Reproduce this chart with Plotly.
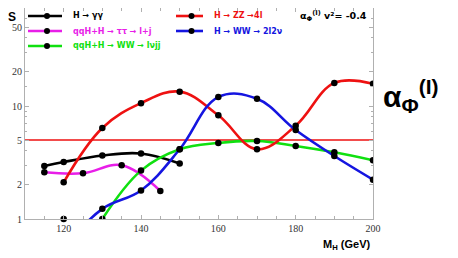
import plotly.graph_objects as go

# ---- data ----
mh_gg = [115, 120, 130, 140, 150]
s_gg = [2.94, 3.19, 3.65, 3.80, 3.10]

mh_tt = [115, 125, 135, 145]
s_tt = [2.59, 2.54, 2.99, 1.77]

mh_zz = [120, 130, 140, 150, 160, 170, 180, 190, 200]
s_zz = [2.11, 6.39, 10.6, 13.4, 8.27, 4.14, 6.69, 16.0, 15.7]

mh_ww2 = [120, 130, 140, 150, 160, 170, 180, 190, 200]
s_ww2 = [0.55, 1.23, 1.79, 4.14, 12.0, 11.6, 6.13, 3.61, 2.23]

mh_wwj = [130, 140, 150, 160, 170, 180, 190, 200]
s_wwj = [1.0, 2.68, 4.14, 4.71, 4.90, 4.43, 3.89, 3.31]

mh_clip = [120]
s_clip = [1.0]

threshold_x = [110, 200]
threshold_s = [5, 5]

x_ticks = [120, 140, 160, 180, 200]
x_minor = [115, 125, 130, 135, 145, 150, 155, 165, 170, 175, 185, 190, 195]
y_ticks = [1, 2, 5, 10, 20, 50]
y_minor = [3, 4, 6, 7, 8, 9, 15, 30, 40, 60]

series = [
    ("H \u2192 \u03b3\u03b3", mh_gg, s_gg, "#000000"),
    ("qqH+H \u2192 \u03c4\u03c4 \u2192 l+j", mh_tt, s_tt, "#e81ee8"),
    ("qqH+H \u2192 WW \u2192 l\u03bdjj", mh_wwj, s_wwj, "#10e010"),
    ("H \u2192 ZZ \u21924l", mh_zz, s_zz, "#ee1111"),
    ("H \u2192 WW \u2192 2l2\u03bd", mh_ww2, s_ww2, "#1515e0"),
]

fig = go.Figure()

fig.add_trace(go.Scatter(x=threshold_x, y=threshold_s, mode="lines",
                         line=dict(color="#ee1111", width=1.3), showlegend=False,
                         hoverinfo="skip"))

for name, xs, ys, col in series:
    fig.add_trace(go.Scatter(x=xs, y=ys, mode="lines", name=name,
                             line=dict(color=col, width=2.6, shape="spline", smoothing=1.1),
                             showlegend=False))
for name, xs, ys, col in series:
    fig.add_trace(go.Scatter(x=xs, y=ys, mode="markers",
                             marker=dict(color="black", size=6.5),
                             showlegend=False))
fig.add_trace(go.Scatter(x=mh_clip, y=s_clip, mode="markers", cliponaxis=False,
                         marker=dict(color="black", size=6.5), showlegend=False))

# ---- layout in screen pixels (page body has an 8px margin) ----
OFF = 8
FW, FH = 458 - OFF, 258 - OFF
L, R, T, B = 25, 373, 8, 219           # plot area, screen pixels
W, H = R - L, B - T
DEC = 113.0                             # pixels per decade
ytop = (B - T) / DEC

def px(x):
    return (x - L) / W
def py(y):
    return (B - y) / H

legend_pos = [(28, 62, 16), (28, 62, 31), (28, 62, 46), (176, 203, 16), (176, 203, 31)]
shapes = []
annotations = []
for (name, xs, ys, col), (x0, x1, yy) in zip(series, legend_pos):
    shapes.append(dict(type="line", xref="paper", yref="paper",
                       x0=px(x0), x1=px(x1), y0=py(yy), y1=py(yy),
                       line=dict(color=col, width=2.6)))
    cx = (x0 + x1) / 2 + 2
    shapes.append(dict(type="circle", xref="paper", yref="paper",
                       x0=px(cx - 3), x1=px(cx + 3), y0=py(yy + 3), y1=py(yy - 3),
                       fillcolor="black", line=dict(color="black", width=0)))
    annotations.append(dict(text="<b>%s</b>" % name, xref="paper", yref="paper",
                            x=px(x1 + 9), y=py(yy), xanchor="left", yanchor="middle",
                            showarrow=False, font=dict(color=col, size=8,
                                                       family="DejaVu Sans")))

annotations += [
    dict(text="<b>\u03b1<sub>\u03a6</sub><sup>(I)</sup> v\u00b2= -0.4</b>", xref="paper", yref="paper",
         x=px(369), y=py(16), xanchor="right", yanchor="middle", showarrow=False,
         font=dict(color="black", size=9.5, family="DejaVu Sans")),
    dict(text="<b>\u03b1<sub>\u03a6</sub><sup>(I)</sup></b>", xref="paper", yref="paper",
         x=px(381), y=py(96), xanchor="left", yanchor="middle", showarrow=False,
         font=dict(color="black", size=30, family="Liberation Sans")),
    dict(text="<b>S</b>", xref="paper", yref="paper",
         x=px(12), y=py(8), xanchor="center", yanchor="top", showarrow=False,
         font=dict(color="black", size=12, family="Liberation Sans")),
    dict(text="<b>M<sub>H</sub> (GeV)</b>", xref="paper", yref="paper",
         x=px(372), y=py(245), xanchor="right", yanchor="middle", showarrow=False,
         font=dict(color="black", size=11, family="Liberation Sans")),
]

axis_common = dict(showline=True, linecolor="#b0b0b0", linewidth=1, mirror="allticks",
                   ticks="inside", ticklen=4, tickcolor="#b0b0b0", showgrid=False,
                   zeroline=False,
                   tickfont=dict(family="Liberation Serif", size=10, color="#333333"))

fig.update_layout(
    width=FW, height=FH,
    margin=dict(l=L - OFF, r=FW - (R - OFF), t=T - OFF, b=FH - (B - OFF)),
    plot_bgcolor="white", paper_bgcolor="white",
    shapes=shapes, annotations=annotations,
    xaxis=dict(range=[110, 200], tickvals=x_ticks,
               minor=dict(tickvals=x_minor, ticks="inside", ticklen=3, tickcolor="#b0b0b0"),
               **axis_common),
    yaxis=dict(type="log", range=[0, ytop], tickvals=y_ticks,
               minor=dict(tickvals=y_minor, ticks="inside", ticklen=2, tickcolor="#b0b0b0"),
               **axis_common),
)

fig.write_html("out.html")
